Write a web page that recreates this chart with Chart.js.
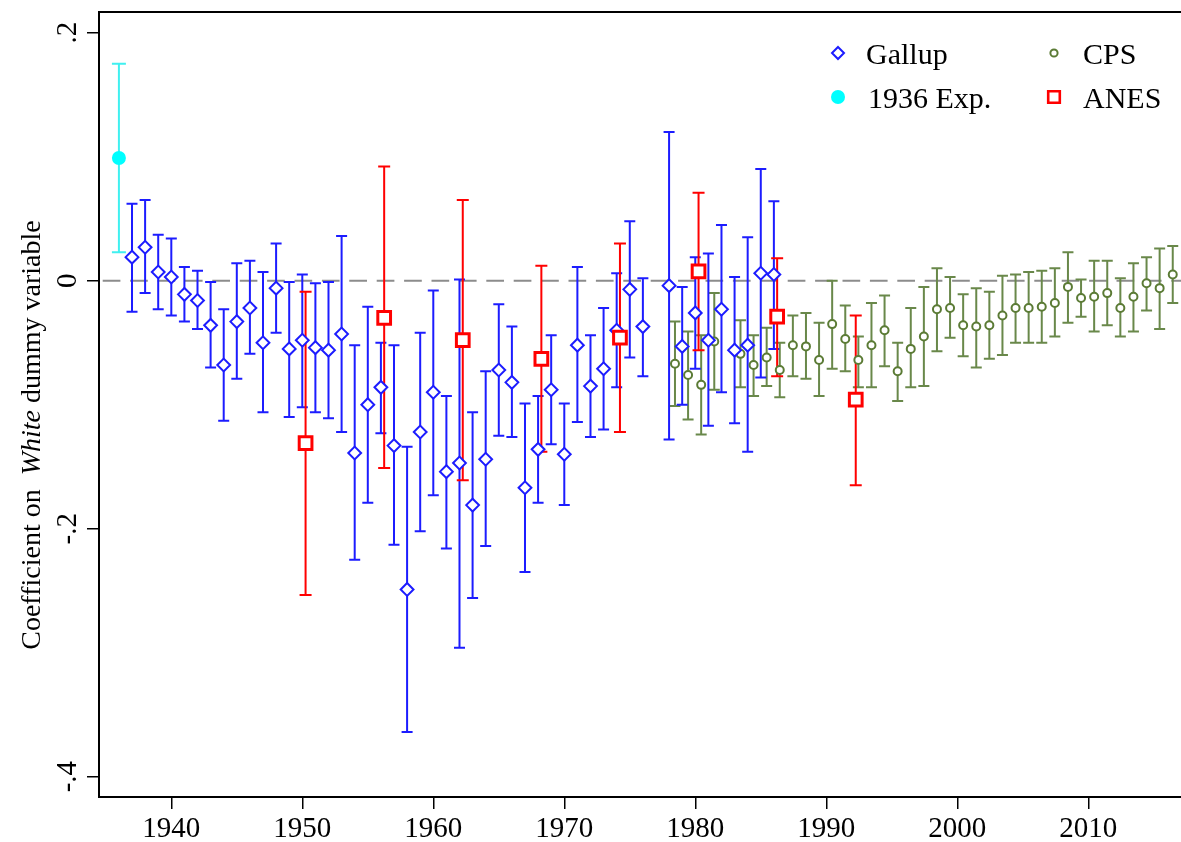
<!DOCTYPE html>
<html>
<head>
<meta charset="utf-8">
<script src="https://cdn.jsdelivr.net/npm/chart.js@4.4.1/dist/chart.umd.min.js"></script>
<style>
  html, body { margin: 0; padding: 0; background: #fff; overflow: hidden; }
</style>
</head>
<body>
<canvas id="chart" width="1181" height="842"></canvas>
<script>
// ---- data ----
const gallupYears = [1937, 1938, 1939, 1940, 1941, 1942, 1943, 1944, 1945, 1946,
  1947, 1948, 1949, 1950, 1951, 1952, 1953, 1954, 1955, 1956,
  1957, 1958, 1959, 1960, 1961, 1962, 1963, 1964, 1965, 1966,
  1967, 1968, 1969, 1970, 1971, 1972, 1973, 1974, 1975, 1976,
  1978, 1979, 1980, 1981, 1982, 1983, 1984, 1985, 1986];
const gallupCoef = [0.019, 0.027, 0.007, 0.003, -0.011, -0.016, -0.036, -0.068, -0.033, -0.022,
  -0.050, -0.006, -0.055, -0.048, -0.054, -0.056, -0.043, -0.139, -0.100, -0.086,
  -0.133, -0.249, -0.122, -0.090, -0.154, -0.147, -0.181, -0.144, -0.072, -0.082,
  -0.167, -0.136, -0.088, -0.140, -0.052, -0.085, -0.071, -0.040, -0.007, -0.037,
  -0.004, -0.053, -0.026, -0.048, -0.023, -0.056, -0.052, 0.006, 0.005];
const gallupLow = [-0.025, -0.010, -0.023, -0.028, -0.033, -0.039, -0.070, -0.113, -0.079, -0.059,
  -0.106, -0.042, -0.110, -0.102, -0.106, -0.111, -0.122, -0.225, -0.179, -0.123,
  -0.213, -0.364, -0.202, -0.173, -0.216, -0.296, -0.256, -0.214, -0.125, -0.126,
  -0.235, -0.179, -0.132, -0.181, -0.114, -0.126, -0.120, -0.086, -0.062, -0.077,
  -0.128, -0.100, -0.071, -0.117, -0.090, -0.115, -0.138, -0.078, -0.055];
const gallupHigh = [0.062, 0.065, 0.037, 0.034, 0.011, 0.008, -0.001, -0.023, 0.014, 0.016,
  0.007, 0.030, -0.001, 0.005, -0.002, -0.001, 0.036, -0.052, -0.021, -0.050,
  -0.052, -0.134, -0.042, -0.008, -0.093, 0.001, -0.106, -0.073, -0.019, -0.037,
  -0.099, -0.093, -0.044, -0.099, 0.011, -0.044, -0.022, 0.006, 0.048, 0.002,
  0.120, -0.005, 0.019, 0.022, 0.045, 0.003, 0.035, 0.090, 0.064];

const cpsYears = [1978, 1979, 1980, 1981,
  1983, 1984, 1985, 1986, 1987, 1988, 1989, 1990, 1991, 1992,
  1993, 1994, 1995, 1996, 1997, 1998, 1999, 2000, 2001, 2002,
  2003, 2004, 2005, 2006, 2007, 2008, 2009, 2010, 2011, 2012,
  2013, 2014, 2015, 2016];
const cpsCoef = [-0.067, -0.076, -0.084, -0.049,
  -0.059, -0.068, -0.062, -0.072, -0.052, -0.053, -0.064, -0.035, -0.047, -0.064,
  -0.052, -0.040, -0.073, -0.055, -0.045, -0.023, -0.022, -0.036, -0.037, -0.036,
  -0.028, -0.022, -0.022, -0.021, -0.018, -0.005, -0.014, -0.013, -0.010, -0.022,
  -0.013, -0.002, -0.006, 0.005];
const cpsLow = [-0.101, -0.112, -0.124, -0.088,
  -0.086, -0.093, -0.085, -0.094, -0.077, -0.079, -0.093, -0.071, -0.073, -0.086,
  -0.086, -0.069, -0.097, -0.086, -0.085, -0.057, -0.046, -0.061, -0.070, -0.063,
  -0.060, -0.050, -0.050, -0.050, -0.045, -0.034, -0.029, -0.041, -0.036, -0.045,
  -0.041, -0.024, -0.039, -0.018];
const cpsHigh = [-0.033, -0.041, -0.044, -0.010,
  -0.032, -0.044, -0.038, -0.050, -0.028, -0.026, -0.034, 0.000, -0.020, -0.045,
  -0.018, -0.012, -0.050, -0.022, -0.005, 0.010, 0.003, -0.011, -0.006, -0.009,
  0.004, 0.005, 0.007, 0.008, 0.010, 0.023, 0.001, 0.016, 0.016, 0.002,
  0.014, 0.019, 0.026, 0.028];

const anesYears = [1950, 1956, 1962, 1968, 1974, 1980, 1986, 1992];
const anesCoef = [-0.131, -0.030, -0.048, -0.063, -0.046, 0.0075, -0.029, -0.096];
const anesLow = [-0.2535, -0.151, -0.161, -0.138, -0.122, -0.056, -0.077, -0.165];
const anesHigh = [-0.009, 0.092, 0.065, 0.012, 0.030, 0.071, 0.018, -0.028];

const expYears = [1936];
const expCoef = [0.099];
const expLow = [0.023];
const expHigh = [0.175];

const xTicks = [1940, 1950, 1960, 1970, 1980, 1990, 2000, 2010];
const yTicks = [-0.4, -0.2, 0, 0.2];
const yTickLabels = ['-.4', '-.2', '0', '.2'];

// small horizontal shifts so the sources do not sit on top of each other
const cpsShift = 0.45;
const anesShift = 0.25;

const BLUE = '#1c1cff';
const RED = '#ff0000';
const CYAN = '#00ffff';
const OLIVE = '#5b7b35';
const SERIF = '"Liberation Serif", "Times New Roman", serif';

function toPoints(years, coef, shift) {
    return years.map((yr, i) => ({ x: yr + shift, y: coef[i] }));
}

// error bars for each source, drawn under the markers
const errorSets = [
    { years: cpsYears, shift: cpsShift, low: cpsLow, high: cpsHigh, color: '#69884a', width: 2, cap: 5.5 },
    { years: gallupYears, shift: 0, low: gallupLow, high: gallupHigh, color: BLUE, width: 2, cap: 5.5 },
    { years: expYears, shift: 0, low: expLow, high: expHigh, color: '#40f0f0', width: 2, cap: 7 },
    { years: anesYears, shift: anesShift, low: anesLow, high: anesHigh, color: RED, width: 2, cap: 6 }
];

const errorBarPlugin = {
    id: 'errorBars',
    beforeDatasetsDraw(chart) {
        const { ctx, chartArea: area, scales: { x, y } } = chart;
        ctx.save();
        ctx.beginPath();
        ctx.rect(area.left, area.top, area.right - area.left, area.bottom - area.top);
        ctx.clip();

        // dashed reference line at zero
        const y0 = y.getPixelForValue(0);
        ctx.strokeStyle = '#8c8c8c';
        ctx.lineWidth = 2;
        ctx.setLineDash([17.7, 9.7]);
        ctx.lineDashOffset = 23.7;
        ctx.beginPath();
        ctx.moveTo(area.left, y0);
        ctx.lineTo(area.right, y0);
        ctx.stroke();
        ctx.setLineDash([]);

        errorSets.forEach(set => {
            ctx.strokeStyle = set.color;
            ctx.lineWidth = set.width;
            set.years.forEach((yr, i) => {
                const px = x.getPixelForValue(yr + set.shift);
                const lo = y.getPixelForValue(set.low[i]);
                const hi = y.getPixelForValue(set.high[i]);
                ctx.beginPath();
                ctx.moveTo(px, lo);
                ctx.lineTo(px, hi);
                ctx.moveTo(px - set.cap, lo);
                ctx.lineTo(px + set.cap, lo);
                ctx.moveTo(px - set.cap, hi);
                ctx.lineTo(px + set.cap, hi);
                ctx.stroke();
            });
        });
        ctx.restore();
    }
};

function drawMarker(ctx, style, x, y, r, fill, stroke, lw) {
    ctx.beginPath();
    if (style === 'diamond') {
        ctx.moveTo(x, y - r);
        ctx.lineTo(x + r, y);
        ctx.lineTo(x, y + r);
        ctx.lineTo(x - r, y);
        ctx.closePath();
    } else if (style === 'square') {
        ctx.rect(x - r, y - r, 2 * r, 2 * r);
    } else {
        ctx.arc(x, y, r, 0, Math.PI * 2);
    }
    ctx.fillStyle = fill;
    ctx.fill();
    if (lw > 0) {
        ctx.strokeStyle = stroke;
        ctx.lineWidth = lw;
        ctx.stroke();
    }
}

const decorPlugin = {
    id: 'decor',
    afterDraw(chart) {
        const { ctx, chartArea: area } = chart;
        ctx.save();

        // top edge of the plot region
        ctx.strokeStyle = '#000';
        ctx.lineWidth = 2;
        ctx.beginPath();
        ctx.moveTo(area.left - 1, area.top);
        ctx.lineTo(area.right, area.top);
        ctx.stroke();

        // y axis title with italic "White"
        const parts = [
            { t: 'Coefficient on  ', f: '28px ' + SERIF },
            { t: 'White', f: 'italic 28px ' + SERIF },
            { t: ' dummy variable', f: '28px ' + SERIF }
        ];
        let total = 0;
        parts.forEach(p => { ctx.font = p.f; p.w = ctx.measureText(p.t).width; total += p.w; });
        ctx.translate(40, 435);
        ctx.rotate(-Math.PI / 2);
        ctx.fillStyle = '#000';
        ctx.textBaseline = 'alphabetic';
        ctx.textAlign = 'left';
        let pos = -total / 2;
        parts.forEach(p => { ctx.font = p.f; ctx.fillText(p.t, pos, 0); pos += p.w; });
        ctx.restore();

        // legend, two columns
        ctx.save();
        const items = [
            { text: 'Gallup', mx: 838, my: 53, style: 'diamond', r: 6, fill: '#fff', stroke: BLUE, lw: 2, tx: 866, ty: 64 },
            { text: 'CPS', mx: 1054, my: 53, style: 'circle', r: 3.6, fill: '#fff', stroke: OLIVE, lw: 2, tx: 1083, ty: 64 },
            { text: '1936 Exp.', mx: 838, my: 97, style: 'circle', r: 7, fill: CYAN, stroke: CYAN, lw: 0, tx: 868, ty: 108 },
            { text: 'ANES', mx: 1054, my: 97, style: 'square', r: 5.8, fill: '#fff', stroke: RED, lw: 2.6, tx: 1083, ty: 108 }
        ];
        items.forEach(it => {
            drawMarker(ctx, it.style, it.mx, it.my, it.r, it.fill, it.stroke, it.lw);
            ctx.font = '30px ' + SERIF;
            ctx.fillStyle = '#000';
            ctx.textAlign = 'left';
            ctx.textBaseline = 'alphabetic';
            ctx.fillText(it.text, it.tx, it.ty);
        });
        ctx.restore();
    }
};

const ctx = document.getElementById('chart').getContext('2d');
new Chart(ctx, {
    type: 'scatter',
    data: {
        datasets: [
            {
                label: 'ANES',
                data: toPoints(anesYears, anesCoef, anesShift),
                pointStyle: 'rect',
                pointRadius: 9,
                pointBorderWidth: 3,
                pointBorderColor: RED,
                pointBackgroundColor: '#fff'
            },
            {
                label: 'Gallup',
                data: toPoints(gallupYears, gallupCoef, 0),
                pointStyle: 'rectRot',
                pointRadius: 6.4,
                pointBorderWidth: 2,
                pointBorderColor: BLUE,
                pointBackgroundColor: '#fff'
            },
            {
                label: 'CPS',
                data: toPoints(cpsYears, cpsCoef, cpsShift),
                pointStyle: 'circle',
                pointRadius: 4,
                pointBorderWidth: 2,
                pointBorderColor: OLIVE,
                pointBackgroundColor: '#fff'
            },
            {
                label: '1936 Exp.',
                data: toPoints(expYears, expCoef, 0),
                pointStyle: 'circle',
                pointRadius: 7,
                pointBorderWidth: 0,
                pointBorderColor: CYAN,
                pointBackgroundColor: CYAN
            }
        ]
    },
    options: {
        responsive: false,
        animation: false,
        layout: { autoPadding: false, padding: { top: 12, left: 0, right: 0, bottom: 0 } },
        plugins: {
            legend: { display: false },
            tooltip: { enabled: false }
        },
        scales: {
            x: {
                type: 'linear',
                min: 1934.48,
                max: 2017.08,
                afterBuildTicks: scale => { scale.ticks = xTicks.map(v => ({ value: v })); },
                afterFit: scale => { scale.height = 45; },
                grid: { display: true, drawOnChartArea: false, drawTicks: true, tickLength: 12, color: '#000', lineWidth: 1.5 },
                border: { display: true, color: '#000', width: 2 },
                ticks: {
                    autoSkip: false,
                    maxRotation: 0,
                    minRotation: 0,
                    padding: 3,
                    color: '#000',
                    font: { family: SERIF, size: 29 },
                    callback: v => String(v)
                }
            },
            y: {
                min: -0.4164,
                max: 0.2167,
                afterBuildTicks: scale => { scale.ticks = yTicks.map(v => ({ value: v })); },
                afterFit: scale => { scale.width = 99; },
                grid: { display: true, drawOnChartArea: false, drawTicks: true, tickLength: 12, color: '#000', lineWidth: 1.5 },
                border: { display: true, color: '#000', width: 2 },
                ticks: {
                    minRotation: 90,
                    maxRotation: 90,
                    crossAlign: 'center',
                    padding: 3,
                    color: '#000',
                    font: { family: SERIF, size: 29, lineHeight: 0.4 },
                    callback: (v, i) => yTickLabels[i]
                }
            }
        }
    },
    plugins: [errorBarPlugin, decorPlugin]
});
</script>
</body>
</html>
